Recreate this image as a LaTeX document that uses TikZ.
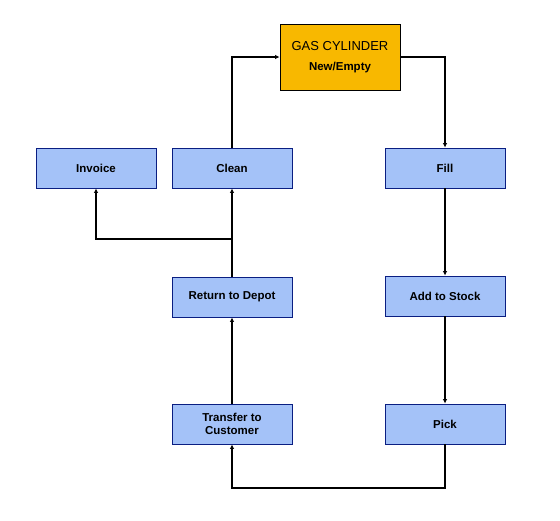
\documentclass[tikz,border=0pt]{standalone}
\usepackage{fontspec}
\setmainfont{Liberation Sans}
\usetikzlibrary{arrows.meta}
\definecolor{boxblue}{RGB}{164,194,248}
\definecolor{edgeblue}{RGB}{10,30,130}
\definecolor{gasorange}{RGB}{248,184,0}
\begin{document}
\begin{tikzpicture}[x=1pt, y=-1pt,
                    line width=1.8pt,
                    ]
    \tikzstyle{step box}=[rectangle,draw=edgeblue,line width=0.8pt,fill=boxblue,minimum width=120pt,minimum height=40pt,inner sep=2pt,align=center,font=\bfseries\fontsize{11.5}{13}\selectfont]
    \tikzstyle{cylinder box}=[step box, fill=gasorange, draw=black, minimum height=66pt, font=\fontsize{13}{16}\selectfont];
    \tikzstyle{flow}=[draw, black, -{Latex[length=4.5pt,width=4.5pt]}];

    \useasboundingbox (0,0) rectangle (560,520);

    \node[cylinder box] (gas) at (340,57) {GAS CYLINDER\\[4pt]{\bfseries\fontsize{11.5}{13}\selectfont New/Empty}};
    \node[step box] (invoice) at (96,168) {Invoice};
    \node[step box] (clean) at (232,168) {Clean};
    \node[step box] (fill) at (445,168) {Fill};
    \node[step box] (return) at (232,297) {Return to Depot};
    \node[step box] (stock) at (445,296) {Add to Stock};
    \node[step box] (transfer) at (232,424) {Transfer to\\Customer};
    \node[step box] (pick) at (445,424) {Pick};

    \coordinate (split) at (232,239);
    \coordinate (bottom) at (340,488);

    \path[flow] (clean.north) |- (gas.west);
    \path[flow] (gas.east) -| (fill.north);
    \path[flow] (fill) -- (stock);
    \path[flow] (stock) -- (pick);
    \path[flow] (pick.south) |- (bottom) -| (transfer.south);
    \path[flow] (transfer) -- (return);
    \path[flow] (return) -- (clean);
    \path[flow] (split) -| (invoice.south);
\end{tikzpicture}
\end{document}
